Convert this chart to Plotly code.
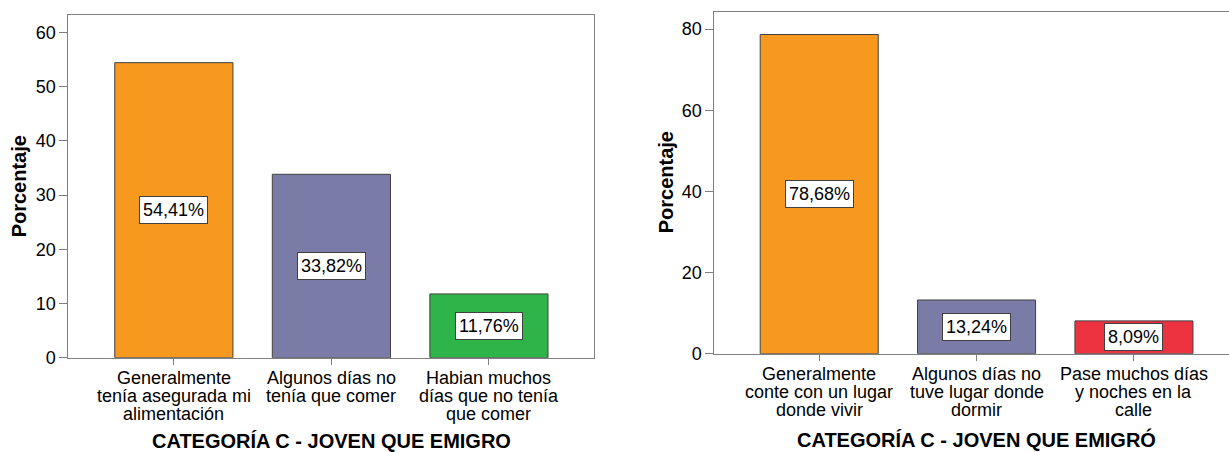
import plotly.graph_objects as go

W, H = 1229, 452

# ---- data ----
cats_left = ["Generalmente<br>tenía asegurada mi<br>alimentación",
             "Algunos días no<br>tenía que comer",
             "Habian muchos<br>días que no tenía<br>que comer"]
vals_left = [54.41, 33.82, 11.76]
colors_left = ["#F7981F", "#7B7BA8", "#2FB44A"]
title_left = "CATEGORÍA C - JOVEN QUE EMIGRO"

cats_right = ["Generalmente<br>conte con un lugar<br>donde vivir",
              "Algunos días no<br>tuve lugar donde<br>dormir",
              "Pase muchos días<br>y noches en la<br>calle"]
vals_right = [78.68, 13.24, 8.09]
colors_right = ["#F7981F", "#7B7BA8", "#EE3340"]
title_right = "CATEGORÍA C - JOVEN QUE EMIGRÓ"

ytitle = "Porcentaje"
yticks_left = [0, 10, 20, 30, 40, 50, 60]
yticks_right = [0, 20, 40, 60, 80]

FONT = "Liberation Sans, Arial, sans-serif"
FRAME = "#7f7f7f"
OUTLINE = "#404040"


def px_x(p):
    return p / W


def px_y(p):
    return (H - p) / H


# pixel geometry of the two panels
L = dict(x0=68.3, x1=594.0, ytop=15.0, ybot=357.7, xr=[-0.67, 2.667], yr=[0, 63.2],
         xtitle_x=331.0, xtitle_y=440.5, ytitle_x=19.0)
R = dict(x0=714.4, x1=1229.0, ytop=11.7, ybot=353.7, xr=[-0.666, 2.604], yr=[0, 84.3],
         xtitle_x=976.0, xtitle_y=439.5, ytitle_x=665.6)

fig = go.Figure()

panels = [
    (cats_left, vals_left, colors_left, "x", "y", L, title_left),
    (cats_right, vals_right, colors_right, "x2", "y2", R, title_right),
]

annotations = []
for cats, vals, cols, xa, ya, g, xt in panels:
    idx = list(range(len(cats)))
    fig.add_trace(go.Bar(
        x=idx, y=vals, xaxis=xa, yaxis=ya, width=0.75,
        marker=dict(color=cols, line=dict(color=OUTLINE, width=1)),
        hoverinfo="skip", showlegend=False,
    ))
    # value labels in white boxes
    for i, v in zip(idx, vals):
        annotations.append(dict(
            x=i, y=v / 2, xref=xa, yref=ya,
            text=f"{v:.2f}".replace(".", ",") + "%",
            showarrow=False, font=dict(family=FONT, size=18, color="black"),
            bgcolor="white", bordercolor=OUTLINE, borderwidth=1, borderpad=3,
            xanchor="center", yanchor="middle",
        ))
    # category labels (tight line spacing)
    for i, c in zip(idx, cats):
        for j, line in enumerate(c.split("<br>")):
            annotations.append(dict(
                x=i, y=px_y(g["ybot"]), xref=xa, yref="paper",
                text=line, showarrow=False,
                font=dict(family=FONT, size=18, color="black"),
                xanchor="center", yanchor="middle",
                yshift=-(20 + j * 18.3),
            ))
    # axis titles
    annotations.append(dict(
        x=px_x(g["xtitle_x"]), y=px_y(g["xtitle_y"]), xref="paper", yref="paper",
        text=f"<b>{xt}</b>", showarrow=False,
        font=dict(family=FONT, size=20, color="black"),
        xanchor="center", yanchor="middle",
    ))
    annotations.append(dict(
        x=px_x(g["ytitle_x"]), y=px_y((g["ytop"] + g["ybot"]) / 2), xref="paper", yref="paper",
        text=f"<b>{ytitle}</b>", showarrow=False, textangle=-90,
        font=dict(family=FONT, size=20, color="black"),
        xanchor="center", yanchor="middle",
    ))

common_x = dict(showgrid=False, zeroline=False, showline=True, linecolor=FRAME, linewidth=1,
                ticks="outside", ticklen=6, tickcolor=FRAME, showticklabels=False,
                fixedrange=True)
common_y = dict(showgrid=False, zeroline=False, showline=True, linecolor=FRAME, linewidth=1,
                ticks="outside", ticklen=8, tickcolor=FRAME,
                tickfont=dict(family=FONT, size=18, color="black"), fixedrange=True)

fig.update_layout(
    width=W, height=H, autosize=False,
    margin=dict(l=0, r=0, t=0, b=0, autoexpand=False),
    paper_bgcolor="white", plot_bgcolor="white",
    bargap=0.25,
    xaxis=dict(common_x, domain=[px_x(L["x0"]), px_x(L["x1"])], range=L["xr"], anchor="y",
               mirror=True, tickvals=[0, 1, 2]),
    yaxis=dict(common_y, domain=[px_y(L["ybot"]), px_y(L["ytop"])], range=L["yr"], anchor="x",
               mirror=True, tickvals=yticks_left),
    xaxis2=dict(common_x, domain=[px_x(R["x0"]), 1.0], range=R["xr"], anchor="y2",
                mirror=True, tickvals=[0, 1, 2]),
    yaxis2=dict(common_y, domain=[px_y(R["ybot"]), px_y(R["ytop"])], range=R["yr"], anchor="x2",
                mirror=False, tickvals=yticks_right),
    annotations=annotations,
)

page_fix = (
    "var d=document.documentElement,b=document.body;"
    "d.style.margin='0';d.style.padding='0';d.style.overflow='hidden';"
    "d.style.height='452px';"
    "b.style.margin='0';b.style.padding='0';b.style.overflow='hidden';"
    "b.style.height='452px';"
)

fig.write_html("out.html", config={"displayModeBar": False, "responsive": False},
               post_script=page_fix)
